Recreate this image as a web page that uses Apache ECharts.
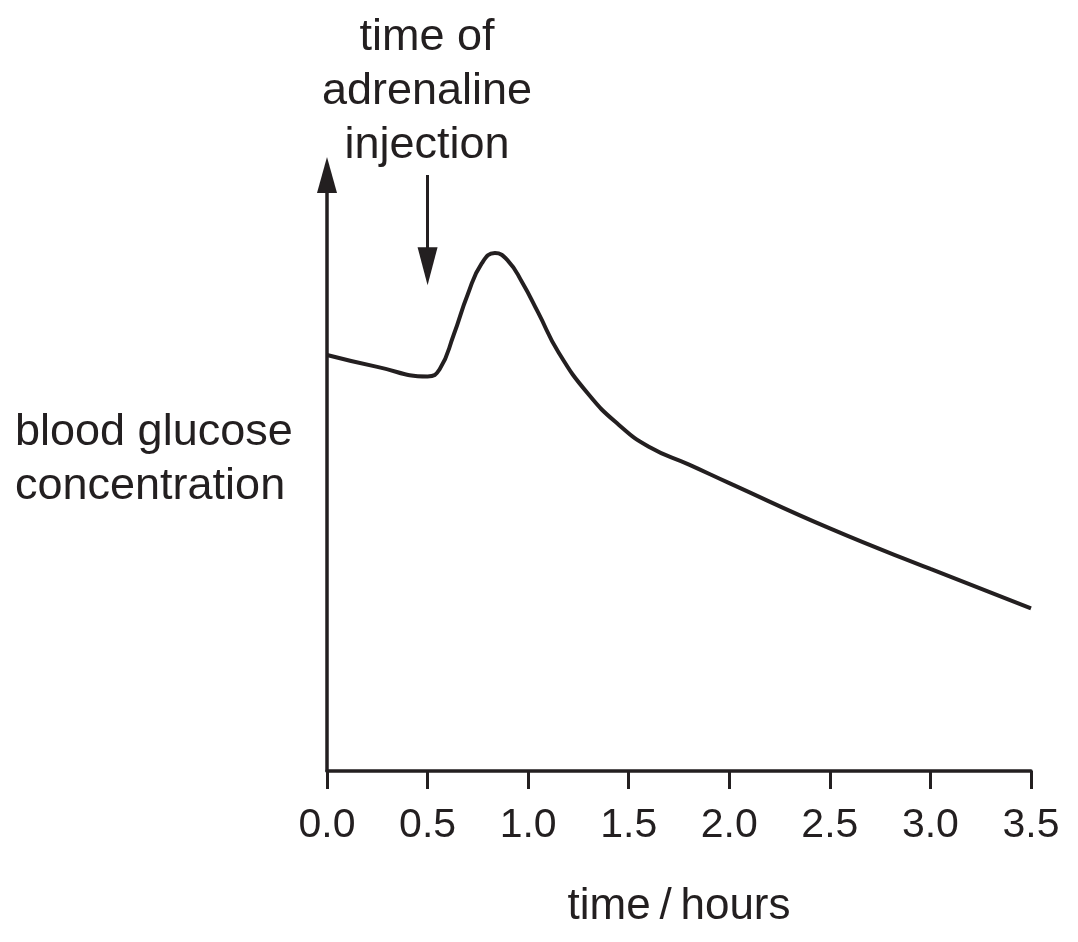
<!DOCTYPE html>
<html>
<head>
<meta charset="utf-8">
<title>blood glucose</title>
<script src="https://cdn.jsdelivr.net/npm/echarts@6/dist/echarts.min.js"></script>
<style>
  html, body { margin: 0; padding: 0; background: #fff; }
  #chart { width: 1078px; height: 942px; }
</style>
</head>
<body>
<div id="chart"></div>
<script>
// time in hours, glucose in arbitrary units
const times = [0, 0.25, 0.5, 0.56, 0.63, 0.7, 0.77, 0.835, 0.9, 0.97, 1.05, 1.15, 1.3, 1.45, 1.6, 1.8, 2.0, 2.5, 3.0, 3.5];
const glucose = [69.8, 67.8, 66.2, 67.4, 73.2, 80.0, 85.2, 86.9, 85.6, 82.0, 76.9, 70.3, 63.2, 58.1, 54.4, 51.4, 48.3, 40.7, 33.9, 27.3];
const xTicks = ["0.0", "0.5", "1.0", "1.5", "2.0", "2.5", "3.0", "3.5"];
const injectionTime = 0.5;
const injectionArrow = [100, 84.7]; // from / to, y units

const ink = "#231f20";
const font = "Liberation Sans, Arial, sans-serif";

let chart = echarts.init(document.getElementById("chart"));
chart.setOption({
  animation: false,
  backgroundColor: "#fff",
  textStyle: { fontFamily: font, color: ink },
  grid: {
    left: 327,
    right: 47,
    top: 175,
    bottom: 171,
    outerBoundsMode: "none",
  },
  xAxis: {
    type: "value",
    min: 0,
    max: 3.5,
    interval: 0.5,
    name: "time\u2009/\u2009hours",
    nameLocation: "middle",
    nameGap: 114,
    nameTextStyle: { fontSize: 44, color: ink, fontFamily: font },
    axisLine: { lineStyle: { color: ink, width: 3.5 } },
    axisTick: { length: 18, lineStyle: { color: ink, width: 3 } },
    axisLabel: {
      fontSize: 41,
      color: ink,
      fontFamily: font,
      margin: 34,
      formatter: (v) => xTicks[Math.round(v / 0.5)],
    },
    splitLine: { show: false },
  },
  yAxis: {
    type: "value",
    min: 0,
    max: 100,
    axisLine: {
      show: true,
      symbol: ["none", "triangle"],
      symbolSize: [20, 36],
      lineStyle: { color: ink, width: 3.5 },
    },
    axisTick: { show: false },
    axisLabel: { show: false },
    splitLine: { show: false },
  },
  graphic: [
    {
      type: "text",
      left: 15,
      top: 406,
      style: {
        text: "blood glucose\nconcentration",
        fontSize: 45,
        lineHeight: 54,
        fontFamily: font,
        fill: ink,
        align: "left",
      },
    },
    {
      type: "text",
      x: 427,
      y: 11,
      style: {
        text: "time of\nadrenaline\ninjection",
        fontSize: 45,
        lineHeight: 54,
        fontFamily: font,
        fill: ink,
        align: "center",
        verticalAlign: "top",
      },
    },
  ],
  series: [
    {
      type: "line",
      data: times.map((t, i) => [t, glucose[i]]),
      showSymbol: false,
      smooth: 0.5,
      lineStyle: { color: ink, width: 4 },
      silent: true,
      markLine: {
        silent: true,
        symbol: ["none", "triangle"],
        symbolSize: [20, 38],
        label: { show: false },
        lineStyle: { color: ink, width: 3, type: "solid" },
        data: [
          [
            { coord: [injectionTime, injectionArrow[0]] },
            { coord: [injectionTime, injectionArrow[1]] },
          ],
        ],
      },
    },
  ],
});
</script>
</body>
</html>
